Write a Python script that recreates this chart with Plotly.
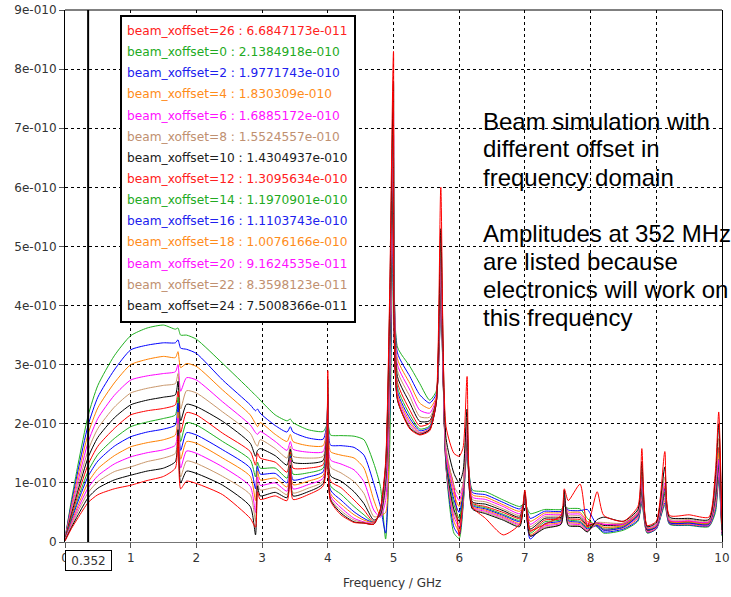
import numpy as np
import plotly.graph_objects as go

# Frequency grid (GHz)
freq = [0, 0.1, 0.2, 0.352, 0.5, 0.75, 1.0, 1.25, 1.5, 1.68,
        1.72, 1.76, 1.85, 2.0, 2.4, 2.82, 2.9, 2.93, 2.97, 3.2,
        3.38, 3.43, 3.47, 3.7, 3.93, 4.0, 4.04, 4.2, 4.4, 4.55,
        4.7, 4.8, 4.88, 4.94, 5.0, 5.06, 5.25, 5.4, 5.55, 5.65,
        5.72, 5.8, 5.92, 6.0, 6.06, 6.12, 6.2, 6.4, 6.67, 6.92,
        7.0, 7.08, 7.3, 7.55, 7.6, 7.66, 7.84, 7.95, 8.1, 8.2,
        8.5, 8.72, 8.78, 8.86, 9.0, 9.13, 9.2, 9.5, 9.8, 9.9,
        9.95, 10.0]

# Amplitudes in units of 1e-10
off0 = [0.06, 0.72, 1.32, 2.138, 2.65, 3.15, 3.49, 3.62, 3.67, 3.6,
        3.62, 3.5, 3.5, 3.43, 3.02, 2.57, 2.48, 2.45, 2.4, 2.15,
        2.05, 2.08, 2.02, 1.9, 1.87, 2.0, 1.81, 1.8, 1.79, 1.73,
        1.33, 0.94, 0.05, 1.5, 5.5, 3.3, 2.97, 2.68, 2.4, 2.55,
        3.9, 1.25, 0.15, 0.06, 0.6, 1.55, 0.88, 0.85, 0.71, 0.6,
        0.65, 0.48, 0.55, 0.55, 0.6, 0.57, 0.56, 0.4, 0.25, 0.15,
        0.2, 0.35, 0.65, 0.15, 0.22, 0.62, 0.3, 0.28, 0.26, 0.5,
        1.05, 0.1]
off2 = [0.06, 0.67, 1.22, 1.977, 2.45, 2.91, 3.25, 3.33, 3.37, 3.37,
        3.42, 3.28, 3.26, 3.19, 2.74, 2.32, 2.22, 2.25, 2.18, 1.97,
        1.86, 1.95, 1.86, 1.76, 1.74, 2.05, 1.64, 1.63, 1.6, 1.47,
        0.99, 0.6, 0.15, 2.0, 5.7, 3.2, 2.8, 2.49, 2.35, 2.5,
        4.0, 1.27, 0.25, 0.12, 0.65, 1.6, 0.84, 0.8, 0.67, 0.56,
        0.66, 0.4, 0.52, 0.52, 0.62, 0.54, 0.53, 0.55, 0.27, 0.17,
        0.22, 0.37, 0.7, 0.16, 0.22, 0.66, 0.31, 0.29, 0.27, 0.55,
        1.1, 0.12]
off4 = [0.05, 0.62, 1.13, 1.830, 2.27, 2.69, 3.0, 3.09, 3.14, 3.12,
        3.22, 2.95, 3.02, 2.97, 2.57, 2.15, 2.0, 1.95, 2.02, 1.82,
        1.7, 1.82, 1.7, 1.63, 1.63, 2.1, 1.53, 1.47, 1.42, 1.25,
        0.71, 0.45, 0.5, 2.5, 5.9, 3.1, 2.68, 2.35, 2.26, 2.45,
        4.1, 1.28, 0.35, 0.18, 0.7, 1.65, 0.8, 0.76, 0.63, 0.52,
        0.67, 0.35, 0.49, 0.5, 0.64, 0.51, 0.5, 0.35, 0.28, 0.2,
        0.24, 0.4, 0.75, 0.17, 0.23, 0.7, 0.32, 0.3, 0.28, 0.6,
        1.15, 0.13]
off6 = [0.05, 0.57, 1.04, 1.689, 2.09, 2.48, 2.74, 2.81, 2.85, 2.88,
        3.0, 2.55, 2.78, 2.74, 2.37, 1.98, 1.85, 1.82, 1.87, 1.7,
        1.55, 1.7, 1.57, 1.52, 1.53, 2.15, 1.39, 1.32, 1.22, 1.02,
        0.54, 0.42, 0.7, 2.8, 6.1, 3.0, 2.57, 2.23, 2.18, 2.42,
        4.2, 1.3, 0.43, 0.25, 0.7, 1.7, 0.76, 0.72, 0.6, 0.48,
        0.68, 0.3, 0.46, 0.47, 0.66, 0.48, 0.47, 0.32, 0.29, 0.22,
        0.26, 0.42, 0.8, 0.18, 0.24, 0.74, 0.33, 0.31, 0.29, 0.65,
        1.2, 0.14]
off8 = [0.05, 0.52, 0.96, 1.552, 1.92, 2.28, 2.52, 2.6, 2.65, 2.68,
        2.85, 2.25, 2.56, 2.52, 2.2, 1.84, 1.66, 1.62, 1.73, 1.58,
        1.42, 1.62, 1.45, 1.42, 1.45, 2.2, 1.27, 1.17, 1.02, 0.82,
        0.43, 0.44, 0.9, 3.0, 6.3, 2.9, 2.46, 2.12, 2.11, 2.4,
        4.3, 1.32, 0.5, 0.3, 0.75, 1.75, 0.72, 0.68, 0.56, 0.45,
        0.7, 0.26, 0.43, 0.45, 0.68, 0.45, 0.44, 0.3, 0.3, 0.25,
        0.28, 0.44, 0.85, 0.19, 0.25, 0.78, 0.34, 0.32, 0.3, 0.7,
        1.25, 0.15]
off10 = [0.04, 0.48, 0.88, 1.430, 1.77, 2.1, 2.32, 2.4, 2.45, 2.49,
         2.72, 2.05, 2.33, 2.29, 2.04, 1.67, 1.45, 1.55, 1.58, 1.46,
         1.3, 1.57, 1.35, 1.33, 1.38, 2.3, 1.12, 1.03, 0.85, 0.65,
         0.37, 0.46, 1.0, 3.2, 6.5, 2.8, 2.35, 2.04, 2.05, 2.38,
         4.4, 1.35, 0.55, 0.35, 0.8, 1.8, 0.68, 0.64, 0.53, 0.42,
         0.72, 0.22, 0.4, 0.42, 0.7, 0.42, 0.41, 0.28, 0.32, 0.28,
         0.3, 0.46, 0.9, 0.2, 0.26, 0.82, 0.35, 0.33, 0.32, 0.75,
         1.3, 0.16]
off12 = [0.04, 0.44, 0.81, 1.310, 1.62, 1.92, 2.15, 2.22, 2.26, 2.32,
         2.55, 1.85, 2.19, 2.15, 1.84, 1.53, 1.3, 1.5, 1.42, 1.35,
         1.18, 1.52, 1.25, 1.25, 1.31, 2.5, 1.03, 0.92, 0.71, 0.54,
         0.34, 0.48, 1.1, 3.3, 7.0, 2.7, 2.23, 1.96, 2.01, 2.36,
         4.6, 1.5, 0.95, 0.1, 0.8, 1.9, 0.66, 0.6, 0.5, 0.4,
         0.74, 0.18, 0.37, 0.4, 0.72, 0.4, 0.38, 0.26, 0.33, 0.3,
         0.32, 0.5, 1.0, 0.21, 0.28, 0.92, 0.36, 0.35, 0.34, 0.85,
         1.6, 0.18]
off14 = [0.04, 0.40, 0.74, 1.197, 1.48, 1.75, 1.95, 2.03, 2.09, 2.15,
         2.45, 1.7, 2.02, 1.98, 1.7, 1.39, 1.1, 1.35, 1.25, 1.25,
         1.08, 1.48, 1.15, 1.17, 1.25, 2.35, 0.95, 0.81, 0.6, 0.46,
         0.33, 0.5, 1.1, 3.4, 6.7, 2.62, 2.15, 1.91, 1.96, 2.35,
         4.5, 1.38, 0.64, 0.4, 0.8, 1.85, 0.64, 0.58, 0.47, 0.37,
         0.75, 0.15, 0.34, 0.38, 0.72, 0.38, 0.35, 0.24, 0.3, 0.22,
         0.27, 0.45, 0.92, 0.22, 0.26, 0.85, 0.34, 0.33, 0.31, 0.8,
         1.35, 0.15]
off16 = [0.03, 0.37, 0.69, 1.110, 1.37, 1.62, 1.78, 1.86, 1.91, 1.98,
         2.35, 1.55, 1.85, 1.81, 1.56, 1.25, 0.9, 1.28, 1.15, 1.16,
         1.0, 1.45, 1.05, 1.1, 1.19, 2.4, 0.88, 0.71, 0.51, 0.4,
         0.33, 0.5, 1.15, 3.5, 6.9, 2.55, 2.09, 1.88, 1.94, 2.35,
         4.6, 1.4, 0.72, 0.5, 0.85, 1.9, 0.62, 0.56, 0.45, 0.35,
         0.76, 0.05, 0.31, 0.36, 0.74, 0.36, 0.33, 0.22, 0.28, 0.2,
         0.25, 0.46, 0.98, 0.22, 0.25, 0.9, 0.33, 0.32, 0.3, 0.85,
         1.4, 0.15]
off18 = [0.03, 0.34, 0.62, 1.008, 1.24, 1.46, 1.61, 1.68, 1.73, 1.81,
         2.2, 1.4, 1.7, 1.67, 1.42, 1.11, 0.7, 1.2, 1.05, 1.08,
         0.93, 1.42, 0.97, 1.03, 1.13, 2.45, 0.82, 0.64, 0.46, 0.37,
         0.33, 0.52, 1.2, 3.6, 7.1, 2.5, 2.04, 1.85, 1.92, 2.34,
         4.7, 1.45, 0.8, 0.6, 0.9, 1.95, 0.6, 0.54, 0.43, 0.32,
         0.78, 0.12, 0.29, 0.34, 0.76, 0.34, 0.31, 0.2, 0.3, 0.25,
         0.28, 0.48, 1.05, 0.23, 0.27, 0.95, 0.35, 0.34, 0.32, 0.9,
         1.5, 0.16]
off20 = [0.03, 0.31, 0.57, 0.916, 1.12, 1.32, 1.44, 1.51, 1.56, 1.64,
         2.1, 1.25, 1.54, 1.5, 1.27, 0.94, 0.5, 1.1, 0.96, 1.0,
         0.86, 1.38, 0.9, 0.97, 1.08, 2.5, 0.78, 0.58, 0.4, 0.34,
         0.32, 0.52, 1.2, 3.7, 7.3, 2.45, 2.0, 1.84, 1.91, 2.34,
         4.8, 1.5, 0.88, 0.7, 0.95, 2.0, 0.58, 0.52, 0.41, 0.3,
         0.8, 0.1, 0.27, 0.32, 0.78, 0.32, 0.29, 0.19, 0.32, 0.3,
         0.3, 0.5, 1.1, 0.24, 0.29, 1.0, 0.37, 0.36, 0.34, 0.95,
         1.39, 0.17]
off22 = [0.03, 0.28, 0.52, 0.836, 1.02, 1.19, 1.27, 1.36, 1.42, 1.5,
         2.0, 1.1, 1.37, 1.33, 1.11, 0.8, 0.35, 1.0, 0.88, 0.92,
         0.8, 1.35, 0.83, 0.91, 1.03, 2.6, 0.74, 0.53, 0.37, 0.33,
         0.31, 0.54, 1.25, 3.8, 7.5, 2.42, 1.96, 1.83, 1.9, 2.34,
         5.0, 1.6, 0.95, 0.8, 1.0, 2.1, 0.57, 0.5, 0.39, 0.28,
         0.82, 0.1, 0.25, 0.3, 0.8, 0.3, 0.27, 0.18, 0.33, 0.33,
         0.32, 0.52, 1.2, 0.25, 0.31, 1.1, 0.39, 0.38, 0.36, 1.0,
         1.75, 0.18]
off24 = [0.02, 0.25, 0.46, 0.750, 0.91, 1.05, 1.13, 1.2, 1.25, 1.36,
         1.9, 1.0, 1.2, 1.16, 0.96, 0.6, 0.12, 0.95, 0.78, 0.84,
         0.75, 1.3, 0.78, 0.85, 0.99, 2.75, 0.72, 0.49, 0.34, 0.32,
         0.3, 0.55, 1.3, 3.9, 7.8, 2.4, 1.93, 1.82, 1.9, 2.35,
         5.3, 1.75, 1.16, 1.0, 1.2, 2.25, 0.56, 0.48, 0.37, 0.26,
         0.85, 0.1, 0.23, 0.3, 0.88, 0.28, 0.26, 0.17, 0.38, 0.42,
         0.35, 0.55, 1.36, 0.26, 0.33, 1.27, 0.42, 0.4, 0.38, 1.1,
         2.0, 0.2]
off26 = [0.02, 0.23, 0.41, 0.668, 0.80, 0.9, 0.96, 1.04, 1.11, 1.25,
         1.8, 0.9, 1.03, 0.99, 0.8, 0.4, 0.25, 0.85, 0.72, 0.78,
         0.7, 1.25, 0.72, 0.8, 0.95, 2.9, 0.7, 0.46, 0.33, 0.32,
         0.3, 0.56, 1.35, 4.1, 8.3, 2.42, 1.91, 1.81, 1.88, 2.4,
         6.0, 1.95, 1.5, 1.45, 1.6, 2.8, 0.6, 0.4, 0.12, 0.3,
         0.88, 0.2, 0.3, 0.45, 0.9, 0.7, 0.98, 0.25, 0.85, 0.45,
         0.35, 0.6, 1.58, 0.28, 0.35, 1.53, 0.45, 0.46, 0.42, 1.2,
         2.2, 0.3]

offsets = [0, 2, 4, 6, 8, 10, 12, 14, 16, 18, 20, 22, 24, 26]
series = [off0, off2, off4, off6, off8, off10, off12, off14, off16,
          off18, off20, off22, off24, off26]
amp_text = {26: "6.6847173e-011", 0: "2.1384918e-010", 2: "1.9771743e-010",
            4: "1.830309e-010", 6: "1.6885172e-010", 8: "1.5524557e-010",
            10: "1.4304937e-010", 12: "1.3095634e-010", 14: "1.1970901e-010",
            16: "1.1103743e-010", 18: "1.0076166e-010", 20: "9.1624535e-011",
            22: "8.3598123e-011", 24: "7.5008366e-011"}
legend_order = [26, 0, 2, 4, 6, 8, 10, 12, 14, 16, 18, 20, 22, 24]

ytick_vals = [0, 1e-10, 2e-10, 3e-10, 4e-10, 5e-10, 6e-10, 7e-10, 8e-10, 9e-10]
ytick_text = ["0", "1e-010", "2e-010", "3e-010", "4e-010", "5e-010",
              "6e-010", "7e-010", "8e-010", "9e-010"]
xtick_vals = [0, 1, 2, 3, 4, 5, 6, 7, 8, 9, 10]
marker_freq = 0.352

note_lines = ["Beam simulation with", "different offset in", "frequency domain", "",
              "Amplitudes at 352 MHz", "are listed because",
              "electronics will work on", "this frequency"]

palette = ["#1fb01f", "#0000ff", "#ff8000", "#ff00ff", "#c8966a", "#000000", "#ff0000"]
text_palette = ["#22aa22", "#2020ee", "#ff8c1a", "#ff10ff", "#c09070", "#202020", "#ff2020"]

def color_for(off, pal):
    # colour cycle: 0 green, 2 blue, 4 orange, 6 magenta, 8 tan, 10 black, 12 red, ...
    return pal[(off // 2) % 7]

fig = go.Figure()
for off, vals in zip(offsets, series):
    fig.add_trace(go.Scatter(
        x=freq, y=np.array(vals) * 1e-10, mode="lines",
        name=f"beam_xoffset={off}",
        line=dict(color=color_for(off, palette), width=1, shape="spline", smoothing=0.6),
        showlegend=False, hoverinfo="skip"))

W, H = 731, 597
ml, mr, mt, mb = 65, 9, 10, 55
pw, ph = W - ml - mr, H - mt - mb

def px_x(px):
    return (px - ml) / pw

def px_y(py):
    return (H - mb - py) / ph

font_ui = "DejaVu Sans"
annotations = []
shapes = []

# Legend-like box
shapes.append(dict(type="rect", xref="paper", yref="paper",
                   x0=px_x(121), x1=px_x(355), y0=px_y(322), y1=px_y(16),
                   line=dict(color="#000000", width=2), fillcolor="white", layer="above"))
for i, off in enumerate(legend_order):
    annotations.append(dict(
        xref="paper", yref="paper", x=px_x(125), y=px_y(31 + i * 21.15),
        xanchor="left", yanchor="middle", showarrow=False,
        text=f"beam_xoffset={off} : {amp_text[off]}",
        font=dict(family=font_ui, size=12.2, color=color_for(off, text_palette))))

# Vertical marker at 352 MHz
shapes.append(dict(type="line", xref="x", yref="paper", x0=marker_freq, x1=marker_freq,
                   y0=0, y1=1, line=dict(color="#000000", width=2), layer="above"))
annotations.append(dict(xref="x", yref="paper", x=marker_freq, y=px_y(560),
                        xanchor="center", yanchor="middle", showarrow=False,
                        text=str(marker_freq), width=45, height=19,
                        bgcolor="white", bordercolor="#000000", borderwidth=1, borderpad=0,
                        font=dict(family=font_ui, size=12, color="#333333")))

# Top border
shapes.append(dict(type="line", xref="paper", yref="paper", x0=0, x1=1, y0=1, y1=1,
                   line=dict(color="#000000", width=1), layer="above"))

# Axis title
annotations.append(dict(xref="paper", yref="paper", x=px_x(392), y=px_y(583),
                        xanchor="center", yanchor="middle", showarrow=False,
                        text="Frequency / GHz",
                        font=dict(family=font_ui, size=12, color="#333333")))

# Notes on the right
for k, line in enumerate(note_lines):
    if not line:
        continue
    annotations.append(dict(xref="paper", yref="paper", x=px_x(481), y=px_y(121 + 28 * k),
                            xanchor="left", yanchor="middle", showarrow=False, text=line,
                            font=dict(family="Liberation Sans, Arial", size=24, color="#000000")))

fig.update_layout(
    width=W, height=H, margin=dict(l=ml, r=mr, t=mt, b=mb, autoexpand=False),
    paper_bgcolor="white", plot_bgcolor="white",
    showlegend=False, shapes=shapes, annotations=annotations,
    xaxis=dict(range=[0, 10], tickvals=xtick_vals, ticktext=[str(v) for v in xtick_vals],
               showgrid=True, gridcolor="#000000", griddash="3px,3px", gridwidth=1,
               showline=True, linecolor="#777777", linewidth=1, mirror=False,
               ticks="outside", ticklen=5, tickcolor="#555555", zeroline=False,
               tickfont=dict(family=font_ui, size=12, color="#333333")),
    yaxis=dict(range=[0, 9e-10], tickvals=ytick_vals, ticktext=ytick_text,
               showgrid=True, gridcolor="#000000", griddash="3px,3px", gridwidth=1,
               showline=True, linecolor="#000000", linewidth=1, mirror=True,
               ticks="outside", ticklen=5, tickcolor="#555555", zeroline=False,
               tickfont=dict(family=font_ui, size=12, color="#333333")),
)

fig.write_html("out.html", config={"displayModeBar": False},
               post_script="document.body.style.margin='0px';document.body.style.overflow='hidden';")
